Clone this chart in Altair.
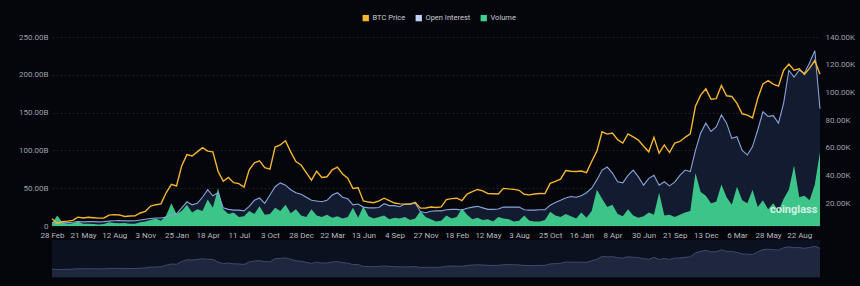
import altair as alt
import pandas as pd

# ---- data (biweekly samples) ----
tick_labels = ["28 Feb", "21 May", "12 Aug", "3 Nov", "25 Jan", "18 Apr", "11 Jul", "3 Oct",
               "28 Dec", "22 Mar", "13 Jun", "4 Sep", "27 Nov", "18 Feb", "12 May", "3 Aug",
               "25 Oct", "16 Jan", "8 Apr", "30 Jun", "21 Sep", "13 Dec", "6 Mar", "28 May", "22 Aug"]

btc_price_k = [8.7, 5.4, 6.5, 6.9, 7.5, 9.8, 9.2, 9.7, 9.4, 9.1, 9.2, 11.3, 11.6, 11.4, 10.3, 10.6,
               10.7, 12.8, 14.0, 17.8, 18.8, 19.4, 27.4, 33.5, 32.3, 47.0, 55.0, 54.0, 57.0, 60.0,
               57.5, 57.0, 43.0, 35.7, 38.5, 34.7, 34.0, 31.5, 44.0, 49.0, 50.5, 45.5, 44.5, 60.5,
               62.0, 65.0, 57.0, 50.0, 47.5, 42.0, 36.5, 43.0, 38.5, 39.0, 44.0, 46.0, 41.0, 38.0,
               30.5, 31.0, 21.5, 20.7, 20.2, 21.5, 23.5, 21.8, 20.0, 19.4, 19.2, 19.2, 20.6, 16.3,
               16.4, 17.1, 16.8, 17.2, 22.5, 23.2, 23.5, 21.8, 26.5, 28.3, 29.8, 28.8, 26.8, 26.7,
               26.5, 30.6, 30.2, 29.9, 29.2, 26.3, 25.9, 26.5, 26.9, 26.8, 34.2, 35.6, 37.3, 43.5,
               43.0, 42.8, 43.1, 42.0, 50.0, 57.5, 71.5, 69.8, 70.6, 65.8, 63.4, 70.0, 67.8, 65.5,
               61.0, 57.0, 67.5, 56.0, 62.0, 56.5, 63.3, 64.5, 67.5, 70.0, 90.0, 98.0, 102.5, 95.0,
               95.5, 105.0, 97.5, 97.0, 92.0, 84.5, 83.5, 81.5, 95.5, 106.0, 108.5, 106.0, 104.5,
               116.0, 120.5, 116.0, 117.0, 113.0, 117.5, 123.0, 113.0]

open_interest_b = [5.0, 3.5, 4.0, 4.5, 5.0, 6.0, 5.5, 5.8, 5.8, 5.5, 5.8, 6.5, 7.0, 7.2, 6.8, 6.8,
                   7.0, 8.0, 9.0, 10.0, 10.5, 10.5, 12.0, 15.0, 16.0, 24.0, 32.0, 28.0, 30.0, 38.0,
                   48.0, 40.0, 44.0, 24.0, 22.0, 21.0, 21.0, 20.0, 26.0, 34.0, 37.0, 30.0, 41.0, 52.0,
                   57.0, 54.0, 48.0, 44.0, 42.0, 38.0, 34.0, 33.0, 32.0, 34.0, 41.0, 44.0, 38.0, 36.0,
                   28.0, 29.0, 25.0, 24.0, 24.0, 24.5, 29.5, 27.0, 27.0, 25.5, 29.0, 29.0, 30.0, 19.0,
                   17.5, 19.5, 20.0, 20.0, 21.5, 22.0, 22.0, 21.0, 23.5, 25.0, 26.0, 24.0, 22.0, 22.0,
                   22.5, 25.0, 25.0, 25.0, 25.0, 21.5, 21.0, 21.0, 21.5, 21.5, 27.5, 31.0, 34.0, 37.0,
                   39.0, 38.0, 40.0, 44.0, 50.0, 61.0, 74.0, 78.0, 70.0, 58.5, 57.0, 67.0, 74.0, 65.0,
                   54.0, 63.0, 67.0, 54.0, 58.5, 53.0, 58.0, 67.0, 74.0, 72.0, 100.0, 123.0, 136.0,
                   125.0, 131.0, 147.0, 136.0, 116.0, 118.0, 100.0, 94.0, 105.0, 127.0, 151.0, 145.0,
                   146.0, 136.0, 163.0, 206.0, 197.0, 206.0, 202.0, 216.0, 232.0, 155.0]

volume_b = [3, 14, 5, 3, 3.5, 6, 3, 3, 2.5, 2, 2.5, 5, 4, 3.5, 4, 3, 3, 5, 6, 8, 10, 7, 14, 30,
            16, 20, 28, 18, 22, 20, 35, 24, 50, 22, 16, 18, 12, 13, 20, 16, 26, 15, 16, 24, 20,
            28, 17, 22, 14, 12, 22, 14, 12, 15, 11, 13, 10, 12, 24, 11, 26, 13, 10, 12, 14, 9,
            11, 10, 12, 8, 10, 20, 12, 9, 6, 7, 14, 10, 12, 23, 15, 9, 11, 8, 9, 6, 12, 10, 9, 6,
            7, 14, 7, 6, 6, 8, 19, 14, 12, 16, 13, 10, 18, 11, 20, 48, 36, 25, 28, 16, 13, 22,
            14, 11, 13, 18, 15, 44, 14, 15, 12, 15, 18, 20, 70, 45, 40, 30, 32, 55, 38, 28, 52,
            34, 30, 48, 25, 34, 22, 30, 20, 36, 48, 80, 38, 40, 34, 55, 98]

series_names = ["BTC Price", "Open Interest", "Volume"]
legend_colors = ["#f2b530", "#c3cff0", "#3fcf8e"]

n = len(btc_price_k)
df = pd.DataFrame({
    "i": list(range(n)),
    "price": btc_price_k,
    "oi": open_interest_b,
    "vol": volume_b,
})

W, H = 768, 189
label_arr = "[" + ",".join("'" + t + "'" for t in tick_labels) + "]"

x_enc = alt.X("i:Q", scale=alt.Scale(domain=[0, n - 1], nice=False, zero=False),
              axis=alt.Axis(values=list(range(0, 145, 6)), labelExpr=label_arr + "[round(datum.value/6)]",
                            title=None, ticks=False, domain=False, grid=False, labelOverlap=False,
                            labelFlush=False,
                            labelColor="#b4b8c2", labelFontSize=8, labelPadding=5,
                            labelFont="Roboto"))

left_scale = alt.Scale(domain=[0, 250], nice=False, zero=True)
left_axis = alt.Axis(values=[0, 50, 100, 150, 200, 250],
                     labelExpr="datum.value == 0 ? '0' : format(datum.value, '.2f') + 'B'",
                     title=None, ticks=False, domain=False, grid=True, labelOverlap=False,
                     gridColor="#262a34", gridDash=[2, 2], gridWidth=0.7,
                     labelColor="#9aa0ab", labelFontSize=8, labelPadding=4, labelFont="Roboto")

base = alt.Chart(df)

oi_area = base.mark_area(color="#17213a", opacity=0.8).encode(
    x=x_enc, y=alt.Y("oi:Q", scale=left_scale, axis=left_axis))
vol_area = base.mark_area(color="#3fcf8e", opacity=0.95).encode(
    x=x_enc, y=alt.Y("vol:Q", scale=left_scale, axis=left_axis))
oi_line = base.mark_line(color="#86a4d8", strokeWidth=1.1).encode(
    x=x_enc, y=alt.Y("oi:Q", scale=left_scale, axis=left_axis))
left = alt.layer(oi_area, vol_area, oi_line)

price_line = base.mark_line(color="#f2b530", strokeWidth=1.4).encode(
    x=x_enc,
    y=alt.Y("price:Q", scale=alt.Scale(domain=[3.4, 140], nice=False, zero=False),
            axis=alt.Axis(orient="right", values=[20, 40, 60, 80, 100, 120, 140],
                          labelExpr="format(datum.value, '.2f') + 'K'",
                          title=None, ticks=False, domain=False, grid=False, labelOverlap=False,
                          labelColor="#9aa0ab", labelFontSize=8, labelPadding=5,
                          labelFont="Roboto")))

# navigator below the axis
nav_bg = alt.Chart(pd.DataFrame({"k": [0]})).mark_rect(color="#0c1120").encode(
    x=alt.value(0), x2=alt.value(W), y=alt.value(203), y2=alt.value(241))
nav_scale = alt.Scale(domain=[-32, 150], range=[240, 204], nice=False, zero=False)
nav_area = base.mark_area(color="#27314b", line={"color": "#3e4a6c", "strokeWidth": 1}).encode(
    x=x_enc,
    y=alt.Y("price:Q", scale=nav_scale, axis=None),
    y2=alt.datum(-32))

legend_layer = alt.Chart(pd.DataFrame({"s": series_names})).mark_square(opacity=0, size=36).encode(
    x=alt.value(-200), y=alt.value(-200),
    color=alt.Color("s:N", scale=alt.Scale(domain=series_names, range=legend_colors),
                    legend=alt.Legend(orient="none", legendX=310, legendY=-23, direction="horizontal",
                                      title=None, symbolType="square", symbolSize=40,
                                      symbolOpacity=1, symbolStrokeWidth=0,
                                      labelColor="#c8ccd4", labelFontSize=7.5, labelFont="Roboto",
                                      columnPadding=9, labelOffset=3)))

watermark = alt.Chart(pd.DataFrame({"t": ["coinglass"]})).mark_text(
    align="left", baseline="middle", fontSize=11, fontWeight="bold", font="Roboto",
    color="#ffffff", opacity=0.75).encode(
    x=alt.value(718), y=alt.value(173), text="t:N")

chart = alt.layer(left, price_line, nav_bg, nav_area, legend_layer, watermark).resolve_scale(
    y="independent"
).properties(
    width=W, height=H,
    autosize=alt.AutoSizeParams(type="none"),
    padding={"left": 52, "top": 37, "right": 40, "bottom": 60},
    background="#05060b",
).configure_view(stroke=None).configure_axis(labelOverlap=False, labelFlush=False)

chart.save("out.html", embed_options={"renderer": "svg", "actions": False})
